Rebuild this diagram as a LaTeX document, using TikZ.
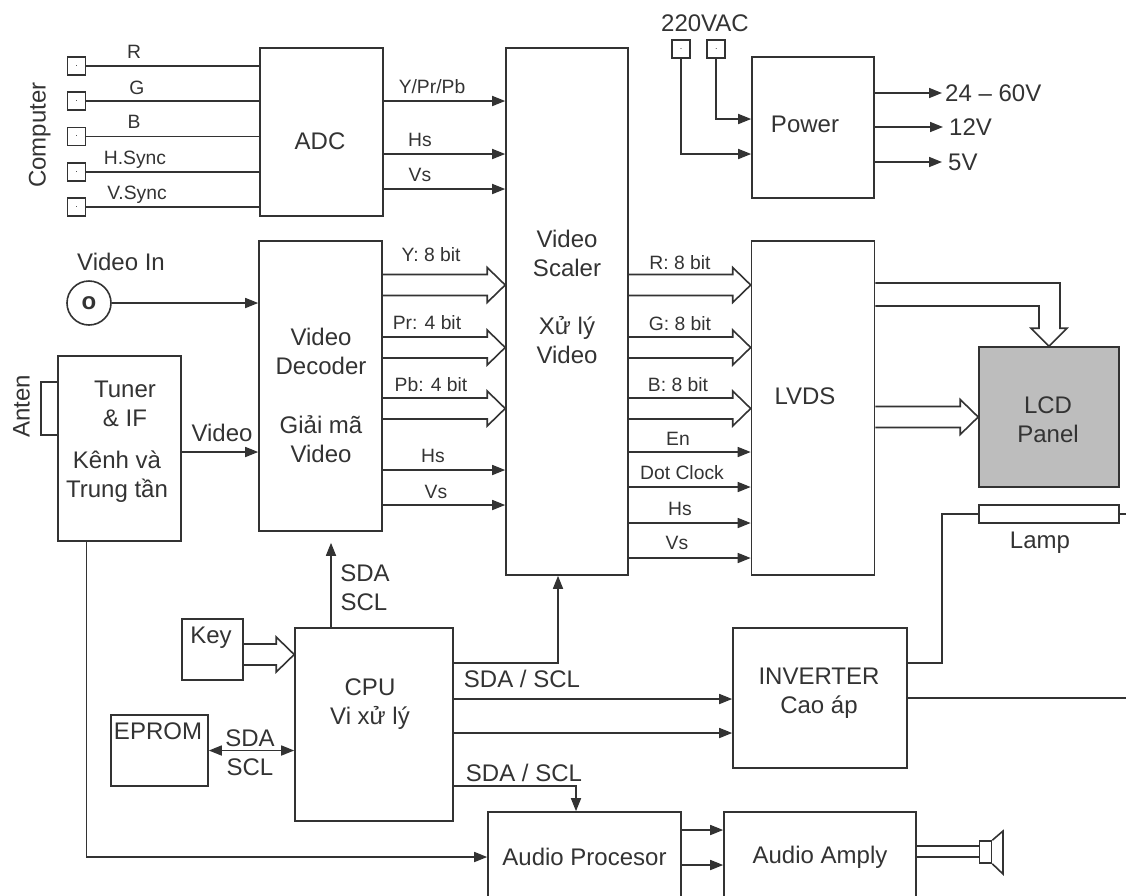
\documentclass[tikz,border=0pt]{standalone}
\usepackage{fontspec}
\setmainfont{Liberation Sans}
\usepackage{tikz}
\usetikzlibrary{arrows.meta,calc}
\definecolor{inkGray}{HTML}{333333}
\definecolor{panelGray}{HTML}{BDBDBD}
\tikzstyle{block} = [draw=inkGray,line width=1.6pt,rectangle,fill=white,inner sep=0pt]
\tikzstyle{port} = [block,minimum size=18pt,text=inkGray,font=\fontsize{9}{9}\selectfont]
\tikzstyle{line} = [draw=inkGray,line width=1.6pt]
\tikzstyle{arrowLine} = [line,-{Triangle[length=13pt,width=10pt]}]
\tikzstyle{bothLine} = [line,{Triangle[length=13pt,width=10pt]}-{Triangle[length=13pt,width=10pt]}]
\tikzstyle{busLine} = [line,line join=miter]
\tikzstyle{manyText} = [text=inkGray,inner sep=0pt,align=center,font=\fontsize{24}{29}\selectfont]
\tikzstyle{bigText} = [manyText,text height=17pt,text depth=0pt]
\tikzstyle{smallText} = [text=inkGray,inner sep=0pt,font=\fontsize{19.3}{24}\selectfont,text height=14pt,text depth=0pt]
% hollow bus arrow from the east side of #2 to the west side of #3 on row #4
\newcommand{\busArrow}[4][]{
	\coordinate (busTip) at (#3.west|-#4);
	\coordinate (busTail) at (#2.east|-#4);
	\path[busLine,#1] ($(busTail)+(0,-10.5)$)--($(busTip)+(-18,-10.5)$)--($(busTip)+(-18,-17.5)$)--(busTip)
		--($(busTip)+(-18,17.5)$)--($(busTip)+(-18,10.5)$)--($(busTail)+(0,10.5)$);
}
\begin{document}
\begin{tikzpicture}[x=1pt,y=-1pt,node distance=35.25pt]
		\useasboundingbox (0,0) rectangle (1126,895);
		\clip (0,0) rectangle (1126,895);
		%rows
		\coordinate (rowAdcY) at (0,101);
		\coordinate (rowAdcHs) at (0,154);
		\coordinate (rowAdcVs) at (0,189);
		\coordinate (rowBusA) at (0,285);
		\coordinate (rowBusB) at (0,347.5);
		\coordinate (rowBusC) at (0,408.5);
		\coordinate (rowVideo) at (0,452);
		\coordinate (rowDecHs) at (0,470);
		\coordinate (rowDecVs) at (0,505);
		\coordinate (rowEn) at (0,452);
		\coordinate (rowDot) at (0,487);
		\coordinate (rowHs) at (0,523);
		\coordinate (rowVs) at (0,558);
		\coordinate (rowPanelA) at (0,283);
		\coordinate (rowPanelB) at (0,306);
		\coordinate (rowPanelC) at (0,417);
		\coordinate (rowKey) at (0,654.5);
		%blocks
		\node[block,minimum width=123pt,minimum height=168pt](adc) at (321.5,132){};
		\node[block,minimum width=123pt,minimum height=290pt,below of=adc,node distance=254pt,xshift=-1pt](decoder){};
		\node[block,minimum width=122pt,minimum height=527pt,right of=adc,node distance=245.5pt,yshift=-179.5pt](scaler){};
		\node[block,minimum width=122pt,minimum height=141pt](power) at (813,127.5){};
		\node[block,minimum width=123pt,minimum height=334pt,below of=power,node distance=280.5pt](lvds){};
		\node[block,minimum width=140pt,minimum height=140pt,fill=panelGray](lcd) at (1049,417){};
		\node[block,minimum width=140pt,minimum height=18pt,below of=lcd,node distance=97pt](lamp){};
		\node[block,minimum width=123pt,minimum height=185pt](tuner) at (119.5,448.5){};
		\node[block,minimum width=17pt,minimum height=53pt,left of=tuner,node distance=70pt,yshift=40pt](anten){};
		\node[block,minimum width=158pt,minimum height=193pt](cpu) at (374,724.5){};
		\node[block,minimum width=61pt,minimum height=61pt](key) at (212.5,649.5){};
		\node[block,minimum width=97pt,minimum height=71pt](eprom) at (159.5,750.5){};
		\node[block,minimum width=174pt,minimum height=140pt](inverter) at (820,698){};
		\node[block,minimum width=193pt,minimum height=90pt](audioProc) at (584.5,857){\fontsize{24}{29}\selectfont\color{inkGray}Audio Procesor};
		\node[block,minimum width=192pt,minimum height=90pt,right of=audioProc,node distance=235.5pt](audioAmp){\fontsize{24}{29}\selectfont\color{inkGray}Audio Amply};
		%ports
		\node[port](portR) at (76.5,66){.};
		\node[port,below of=portR](portG){.};
		\node[port,below of=portG](portB){.};
		\node[port,below of=portB](portH){.};
		\node[port,below of=portH](portV){.};
		\node[port](acA) at (681,49){.};
		\node[port,right of=acA](acB){.};
		\node[block,circle,minimum size=44pt,text=inkGray,font=\fontsize{24}{24}\selectfont\bfseries](videoIn) at (89,303){o};
		\node[block,minimum width=12pt,minimum height=22pt](speaker) at (985.5,852){};
		\coordinate (speakerTop) at (1003,831);
		\coordinate (speakerBottom) at (1003,874);
		\coordinate (lampEnd) at (1127,514);
		\coordinate (inverterEnd) at (1127,698);
		%block text
		\node[bigText](adcText) at (320,141){ADC};
		\node[bigText](powerText) at (805,124){Power};
		\node[bigText](lvdsText) at (805,396){LVDS};
		\node[manyText](scalerText) at (567,296.5){Video\\Scaler\\[29pt]Xử lý\\Video};
		\node[manyText](decoderTextA) at (321,351){Video\\Decoder};
		\node[manyText](decoderTextB) at (321,439){Giải mã\\Video};
		\node[manyText](tunerTextA) at (125,403.5){Tuner\\\& IF};
		\node[manyText](tunerTextB) at (117,476.5){Kênh và\\Trung tần};
		\node[manyText](lcdText) at (1048,420){LCD\\Panel};
		\node[manyText](cpuText) at (370,704.5){CPU\\Vi xử lý};
		\node[manyText](inverterText) at (819,693){INVERTER\\Cao áp};
		\node[bigText](keyText) at (211,635){Key};
		\node[bigText](epromText) at (158,731){EPROM};
		%labels
		\node[bigText,rotate=90](computerText) at (37,135){Computer};
		\node[bigText,rotate=90](antenText) at (21,406){Anten};
		\node[bigText](acText) at (705,23){220VAC};
		\node[bigText](videoInText) at (121,262){Video In};
		\node[bigText](videoText) at (222,433){Video};
		\node[bigText,anchor=west](outA) at (945,93){24 – 60V};
		\node[bigText,anchor=west](outB) at (949,127){12V};
		\node[bigText,anchor=west](outC) at (948,162){5V};
		\node[bigText](lampText) at (1040,540){Lamp};
		\node[bigText](sdaA) at (365,573){SDA};
		\node[bigText](sclA) at (364,602){SCL};
		\node[bigText](sdaB) at (250,738){SDA};
		\node[bigText](sclB) at (250,767){SCL};
		\node[bigText](sdaSclA) at (522,679){SDA / SCL};
		\node[bigText](sdaSclB) at (524,773){SDA / SCL};
		\node[smallText](labelR) at (134,51){R};
		\node[smallText](labelG) at (137,87){G};
		\node[smallText](labelB) at (134,121){B};
		\node[smallText](labelH) at (135,157){H.Sync};
		\node[smallText](labelV) at (137,192){V.Sync};
		\node[smallText](labelAdcY) at (432,86){Y/Pr/Pb};
		\node[smallText](labelAdcHs) at (420,139){Hs};
		\node[smallText](labelAdcVs) at (420,174){Vs};
		\node[smallText](labelY) at (431,254){Y: 8 bit};
		\node[smallText](labelPr) at (427,322){Pr: 4 bit};
		\node[smallText](labelPb) at (431,384){Pb: 4 bit};
		\node[smallText](labelDecHs) at (433,455){Hs};
		\node[smallText](labelDecVs) at (436,491){Vs};
		\node[smallText](labelOutR) at (680,262){R: 8 bit};
		\node[smallText](labelOutG) at (680,323){G: 8 bit};
		\node[smallText](labelOutB) at (678,384){B: 8 bit};
		\node[smallText](labelEn) at (678,438){En};
		\node[smallText](labelDot) at (682,472){Dot Clock};
		\node[smallText](labelHs) at (680,508){Hs};
		\node[smallText](labelVs) at (677,542){Vs};
		%lines
		\path[line](portR)--(portR-|adc.west);
		\path[line](portG)--(portG-|adc.west);
		\path[line](portB)--(portB-|adc.west);
		\path[line](portH)--(portH-|adc.west);
		\path[line](portV)--(portV-|adc.west);
		\path[arrowLine](adc.east|-rowAdcY)--(scaler.west|-rowAdcY);
		\path[arrowLine](adc.east|-rowAdcHs)--(scaler.west|-rowAdcHs);
		\path[arrowLine](adc.east|-rowAdcVs)--(scaler.west|-rowAdcVs);
		\path[arrowLine](acA.south)|-($(power.west)+(0,26.5)$);
		\path[arrowLine](acB.south)|-($(power.west)+(0,-8.5)$);
		\path[arrowLine,shorten >=3pt](power.east|-outA)--(outA.west);
		\path[arrowLine,shorten >=6pt](power.east|-outB)--(outB.west);
		\path[arrowLine,shorten >=6pt](power.east|-outC)--(outC.west);
		\path[arrowLine](videoIn)--(videoIn-|decoder.west);
		\path[arrowLine](tuner.east|-rowVideo)--(decoder.west|-rowVideo);
		\path[arrowLine](decoder.east|-rowDecHs)--(scaler.west|-rowDecHs);
		\path[arrowLine](decoder.east|-rowDecVs)--(scaler.west|-rowDecVs);
		\path[arrowLine](scaler.east|-rowEn)--(lvds.west|-rowEn);
		\path[arrowLine](scaler.east|-rowDot)--(lvds.west|-rowDot);
		\path[arrowLine](scaler.east|-rowHs)--(lvds.west|-rowHs);
		\path[arrowLine](scaler.east|-rowVs)--(lvds.west|-rowVs);
		%buses
		\busArrow{decoder}{scaler}{rowBusA}
		\busArrow{decoder}{scaler}{rowBusB}
		\busArrow{decoder}{scaler}{rowBusC}
		\busArrow{scaler}{lvds}{rowBusA}
		\busArrow{scaler}{lvds}{rowBusB}
		\busArrow{scaler}{lvds}{rowBusC}
		\busArrow[fill=white]{lvds}{lcd}{rowPanelC}
		\busArrow{key}{cpu}{rowKey}
		\path[busLine,fill=white](lvds.east|-rowPanelA)-|($(lcd.north)+(11,-18)$)--++(7,0)--(lcd.north)
			--($(lcd.north)+(-18,-18)$)--++(8,0)|-(lvds.east|-rowPanelB);
		%cpu
		\path[arrowLine]($(cpu.north)+(-43,0)$)--($(decoder.south)+(10.5,11)$);
		\path[arrowLine]($(cpu.east)+(0,-61.5)$)-|($(scaler.south)+(-9,0)$);
		\path[bothLine](eprom.east)--(eprom.east-|cpu.west);
		\path[arrowLine]($(cpu.east)+(0,-25.5)$)--($(inverter.west)+(0,1)$);
		\path[arrowLine]($(cpu.east)+(0,8.5)$)--($(inverter.west)+(0,35)$);
		\path[arrowLine]($(cpu.east)+(0,61.5)$)-|($(audioProc.north)+(-8.5,0)$);
		\path[arrowLine](tuner.south-|portR.east)|-(audioProc.west);
		%inverter and lamp
		\path[line]($(inverter.east)+(0,-35)$)-|($(lamp.west)+(-36,0)$)--(lamp.west);
		\path[line](inverter.east)--(inverterEnd);
		\path[line](lamp.east)--(lampEnd);
		%audio
		\path[arrowLine]($(audioProc.east)+(0,-27)$)--($(audioAmp.west)+(0,-27)$);
		\path[arrowLine]($(audioProc.east)+(0,8)$)--($(audioAmp.west)+(0,8)$);
		\path[line]($(audioAmp.east)+(0,-11)$)--($(speaker.west|-audioAmp.east)+(0,-11)$);
		\path[line](audioAmp.east)--(speaker.west|-audioAmp.east);
		\path[line](speaker.north east)--(speakerTop)--(speakerBottom)--(speaker.south east);
	\end{tikzpicture}
\end{document}
